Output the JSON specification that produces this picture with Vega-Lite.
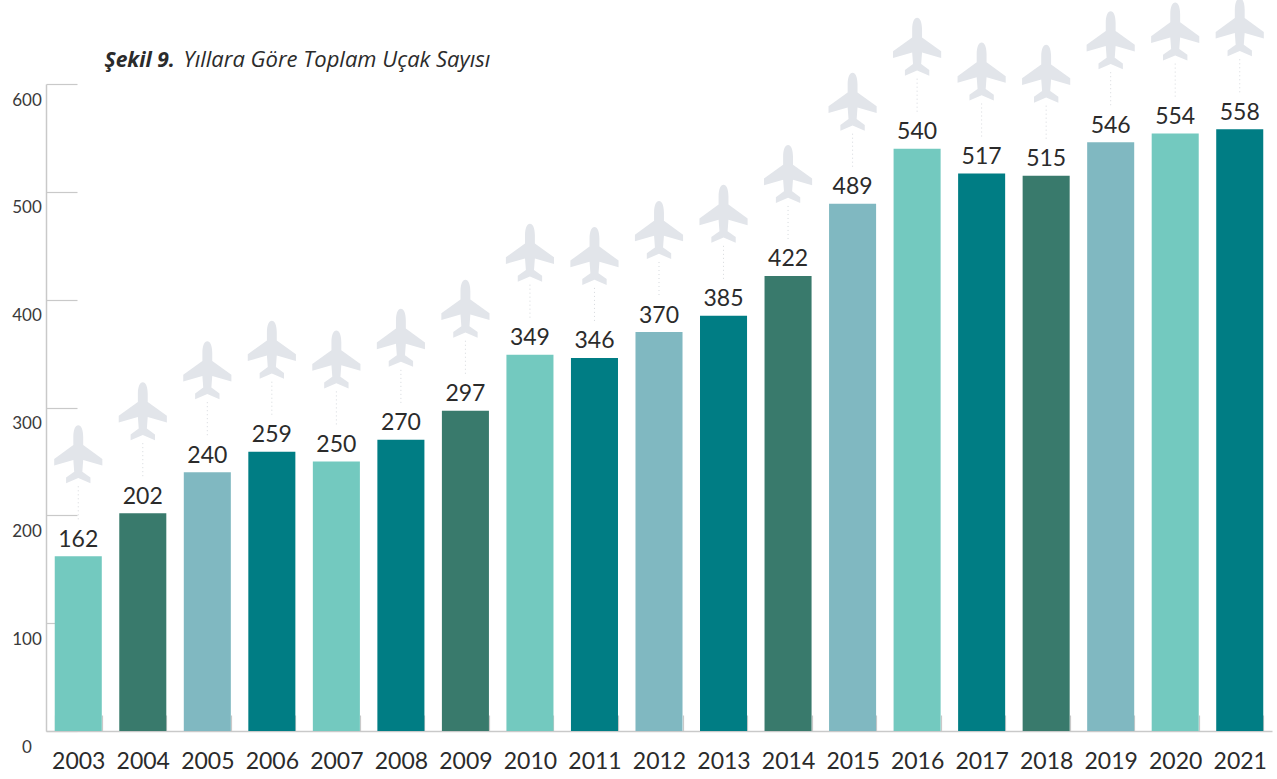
{"$schema":"https://vega.github.io/schema/vega-lite/v6.json","width":1226,"height":647,"autosize":"none","padding":{"left":46,"top":84,"right":5,"bottom":48},"background":"white","view":{"stroke":null},
"data":{"values":[
{"year":"2003","value":162,"group":"a"},{"year":"2004","value":202,"group":"b"},{"year":"2005","value":240,"group":"c"},{"year":"2006","value":259,"group":"d"},{"year":"2007","value":250,"group":"a"},{"year":"2008","value":270,"group":"d"},{"year":"2009","value":297,"group":"b"},{"year":"2010","value":349,"group":"a"},{"year":"2011","value":346,"group":"d"},{"year":"2012","value":370,"group":"c"},{"year":"2013","value":385,"group":"d"},{"year":"2014","value":422,"group":"b"},{"year":"2015","value":489,"group":"c"},{"year":"2016","value":540,"group":"a"},{"year":"2017","value":517,"group":"d"},{"year":"2018","value":515,"group":"b"},{"year":"2019","value":546,"group":"c"},{"year":"2020","value":554,"group":"a"},{"year":"2021","value":558,"group":"d"}]},
"encoding":{"x":{"field":"year","type":"nominal","scale":{"paddingInner":0.271,"paddingOuter":0.1355},"axis":{"title":"Şekil 9.","titleX":58,"titleY":-665,"titleAlign":"left","titleBaseline":"alphabetic","titleFont":"Open Sans","titleFontSize":21,"titleFontWeight":"bold","titleFontStyle":"italic","titleColor":"#2b2b2b","labelAngle":0,"labelFont":"Lato","labelFontSize":23,"labelColor":"#2b2b2b","labelPadding":35,"tickBand":"extent","tickSize":-16,"tickColor":"#c9c9c9","tickWidth":1.2,"domainColor":"#c9c9c9","domainWidth":1.5,"grid":false}}},
"layer":[
{"mark":{"type":"bar"},"encoding":{"y":{"field":"value","type":"quantitative","scale":{"domain":[0,600],"nice":false},"axis":{"title":"Yıllara Göre Toplam Uçak Sayısı","titleAngle":0,"titleX":137,"titleY":-18,"titleAlign":"left","titleBaseline":"alphabetic","titleFont":"Open Sans","titleFontSize":22,"titleFontWeight":"normal","titleFontStyle":"italic","titleColor":"#2b2b2b","values":[0,100,200,300,400,500,600],"labelFont":"Lato","labelFontSize":17,"labelColor":"#3a3a3a","labelOffset":16,"labelAlign":"center","labelPadding":50.5,"tickSize":-31,"tickColor":"#c9c9c9","tickWidth":1.2,"domainColor":"#c9c9c9","domainWidth":1.5,"grid":false}},"color":{"field":"group","type":"nominal","legend":null,"scale":{"domain":["a","b","c","d"],"range":["#73c9bf","#397a6c","#80b8c1","#007d84"]}}}},
{"mark":{"type":"rule","strokeDash":[1,3],"color":"#d5d8dc","strokeWidth":1,"yOffset":-70,"y2Offset":-34},"encoding":{"y":{"field":"value","type":"quantitative"},"y2":{"field":"value"}}},
{"mark":{"type":"text","font":"Lato","fontSize":23,"color":"#2b2b2b","dy":-16.5},"encoding":{"y":{"field":"value","type":"quantitative"},"text":{"field":"value","type":"quantitative"}}},
{"mark":{"type":"point","filled":true,"opacity":1,"color":"#e2e5ea","strokeWidth":0,"clip":false,"yOffset":-102,"shape":"M0,-1 C0.1,-1 0.17,-0.85 0.17,-0.6 L0.17,-0.32 L0.83,0.16 L0.83,0.39 L0.17,0.2 L0.14,0.6 L0.42,0.8 L0.42,1 L0,0.82 L-0.42,1 L-0.42,0.8 L-0.14,0.6 L-0.17,0.2 L-0.83,0.39 L-0.83,0.16 L-0.17,-0.32 L-0.17,-0.6 C-0.17,-0.85 -0.1,-1 0,-1 Z","size":3364},"encoding":{"y":{"field":"value","type":"quantitative"}}}
]}
